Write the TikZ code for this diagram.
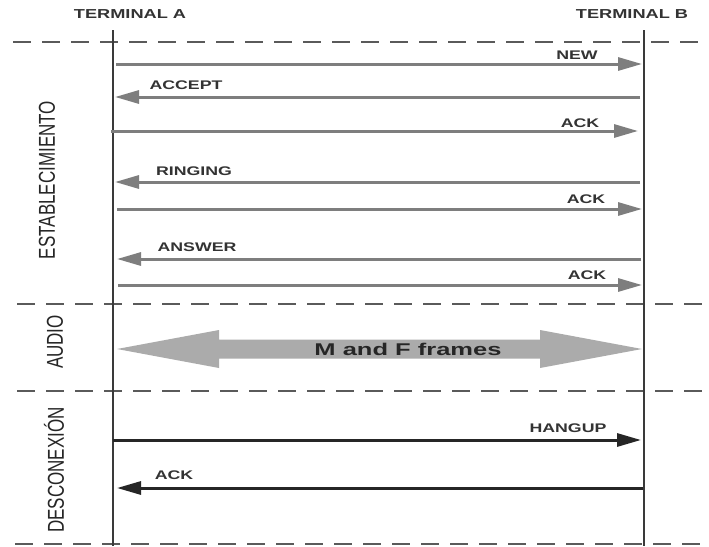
\documentclass[tikz,border=0pt]{standalone}
\usepackage{fontspec}
\setmainfont{Liberation Sans}
\usetikzlibrary{arrows.meta}
\definecolor{msggray}{HTML}{7E7E7E}
\definecolor{dashgray}{HTML}{5A5A5A}
\definecolor{bandgray}{HTML}{ABABAB}
\definecolor{darkmsg}{HTML}{262626}
\definecolor{lifeline}{HTML}{3A3A3A}
\begin{document}
\begin{tikzpicture}[x=1pt,y=-1pt,
  lbl/.style={font=\fontsize{12.5}{14}\selectfont\bfseries, text=black!80, inner sep=0pt, xscale=1.42},
  term/.style={font=\fontsize{13}{15}\selectfont\bfseries, text=black!80, inner sep=0pt, xscale=1.4},
  sec/.style={font=\fontsize{17}{19}\selectfont, text=black!85, inner sep=0pt, rotate=90, yscale=1.35},
  msg/.style={draw=msggray, line width=3pt, -{Triangle[length=24pt,width=13pt]}},
  dmsg/.style={draw=darkmsg, line width=3pt, -{Triangle[length=24pt,width=13pt]}},
  sepline/.style={draw=dashgray, line width=2.4pt, dash pattern=on 18pt off 11pt},
  life/.style={draw=lifeline, line width=2pt}]
\useasboundingbox (0,0) rectangle (709,546);
\fill[white] (0,0) rectangle (709,546);

% separators
\coordinate (s1a) at (13,42);  \coordinate (s1b) at (709,42);
\coordinate (s2a) at (17,304); \coordinate (s2b) at (709,304);
\coordinate (s3a) at (17,391); \coordinate (s3b) at (709,391);
\coordinate (s4a) at (15,544); \coordinate (s4b) at (709,544);
\draw[sepline] (s1a) -- (s1b);
\draw[sepline] (s2a) -- (s2b);
\draw[sepline] (s3a) -- (s3b);
\draw[sepline] (s4a) -- (s4b);

% lifelines
\coordinate (Atop) at (113,30); \coordinate (Abot) at (113,546);
\coordinate (Btop) at (644,30); \coordinate (Bbot) at (644,546);
\draw[life] (Atop) -- (Abot);
\draw[life] (Btop) -- (Bbot);

% terminal labels
\node[term] (tA) at (130,14) {TERMINAL A};
\node[term] (tB) at (632,14) {TERMINAL B};

% section labels
\node[sec] (est) at (47,180) {ESTABLECIMIENTO};
\node[sec] (aud) at (55,342) {AUDIO};
\node[sec] (des) at (54,470) {DESCONEXIÓN};

% messages
\coordinate (m1a) at (116,64);  \coordinate (m1b) at (642,64);
\coordinate (m2a) at (640,97);  \coordinate (m2b) at (115,97);
\coordinate (m3a) at (111,131); \coordinate (m3b) at (638,131);
\coordinate (m4a) at (640,182); \coordinate (m4b) at (115,182);
\coordinate (m5a) at (117,209); \coordinate (m5b) at (642,209);
\coordinate (m6a) at (641,259); \coordinate (m6b) at (117,259);
\coordinate (m7a) at (118,285); \coordinate (m7b) at (642,285);
\coordinate (m8a) at (113,440); \coordinate (m8b) at (641,440);
\coordinate (m9a) at (643,488); \coordinate (m9b) at (117,488);
\draw[msg] (m1a) -- (m1b);
\draw[msg] (m2a) -- (m2b);
\draw[msg] (m3a) -- (m3b);
\draw[msg] (m4a) -- (m4b);
\draw[msg] (m5a) -- (m5b);
\draw[msg] (m6a) -- (m6b);
\draw[msg] (m7a) -- (m7b);
\draw[dmsg] (m8a) -- (m8b);
\draw[dmsg] (m9a) -- (m9b);

\node[lbl] (l1) at (577,55)  {NEW};
\node[lbl] (l2) at (186,85)  {ACCEPT};
\node[lbl] (l3) at (580,123) {ACK};
\node[lbl] (l4) at (194,171) {RINGING};
\node[lbl] (l5) at (586,199) {ACK};
\node[lbl] (l6) at (197,247) {ANSWER};
\node[lbl] (l7) at (587,275) {ACK};
\node[lbl] (l8) at (568,428) {HANGUP};
\node[lbl] (l9) at (174,475) {ACK};

% audio band
\fill[bandgray] (117,349) -- (219,330) -- (219,339.5) -- (540,339.5) -- (540,330)
  -- (642,349) -- (540,368) -- (540,358.5) -- (219,358.5) -- (219,368) -- cycle;
\node[font=\fontsize{17}{19}\selectfont\bfseries, text=black!85, inner sep=0pt, xscale=1.5] (mf) at (408,349) {M and F frames};
\end{tikzpicture}
\end{document}
